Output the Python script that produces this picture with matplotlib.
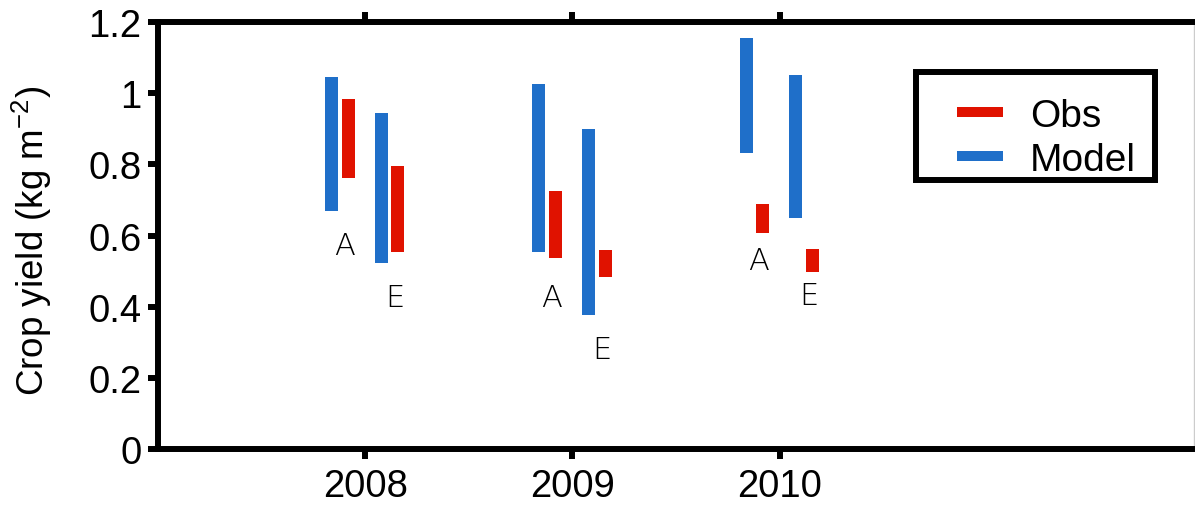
import matplotlib
matplotlib.use("Agg")
import matplotlib.pyplot as plt
from matplotlib.ticker import FuncFormatter
from matplotlib.lines import Line2D
from matplotlib.patches import Rectangle

plt.rcParams['font.family'] = ['Liberation Sans', 'DejaVu Sans']

years = [2008, 2009, 2010]
model_a_low = [0.668, 0.555, 0.833]
model_a_high = [1.045, 1.025, 1.155]
obs_a_low = [0.761, 0.537, 0.608]
obs_a_high = [0.982, 0.725, 0.690]
model_e_low = [0.522, 0.377, 0.649]
model_e_high = [0.945, 0.898, 1.050]
obs_e_low = [0.553, 0.483, 0.499]
obs_e_high = [0.796, 0.559, 0.563]
label_a_y = [0.571, 0.427, 0.529]
label_e_y = [0.427, 0.281, 0.431]
yticks = [0, 0.2, 0.4, 0.6, 0.8, 1.0, 1.2]
legend_labels = ['Obs', 'Model']

blue = '#1f6fc9'
red = '#e01200'

fig = plt.figure(figsize=(11.95, 5.10), dpi=100)
ax = fig.add_axes([0.1322, 0.1167, 0.8670, 0.8388])

w = 0.0625
off = {'ma': -0.162, 'oa': -0.082, 'me': 0.077, 'oe': 0.158}

def draw(xoff, lo, hi, color):
    xs = [y + xoff for y in years]
    hs = [h - l for h, l in zip(hi, lo)]
    return ax.bar(xs, hs, bottom=lo, width=w, color=color, zorder=3)

draw(off['ma'], model_a_low, model_a_high, blue)
draw(off['oa'], obs_a_low, obs_a_high, red)
draw(off['me'], model_e_low, model_e_high, blue)
draw(off['oe'], obs_e_low, obs_e_high, red)

for yr, ya, ye in zip(years, label_a_y, label_e_y):
    ax.text(yr - 0.10, ya, 'A', ha='center', va='center', fontsize=22,
            family='DejaVu Sans', fontweight='light')
    ax.text(yr + 0.143, ye, 'E', ha='center', va='center', fontsize=22,
            family='DejaVu Sans', fontweight='light')

ax.set_xlim(2007, 2012)
ax.set_ylim(0, 1.2)
ax.set_xticks(years)
ax.set_xticklabels([str(y) for y in years])
ax.set_yticks(yticks)
ax.yaxis.set_major_formatter(FuncFormatter(lambda v, p: '%g' % v))

for side in ['left', 'top', 'bottom']:
    ax.spines[side].set_linewidth(4.3)
ax.spines['right'].set_linewidth(1.0)
ax.spines['right'].set_color('#cccccc')

ax.tick_params(axis='both', which='major', direction='out', length=7, width=4.3,
               labelsize=27.5)
ax.tick_params(axis='x', top=True, labeltop=False, pad=6)
ax.tick_params(axis='y', pad=5)

ax.set_ylabel(r'Crop yield (kg m$^{\mathregular{-2}}$)', fontsize=26.5)
ax.yaxis.set_label_coords(-0.1, 0.49)

# legend frame
ax.add_patch(Rectangle((0.7317, 0.630), 0.9624 - 0.7317, 0.8824 - 0.630,
                       transform=ax.transAxes, facecolor='white',
                       edgecolor='black', lw=4.3, zorder=4, clip_on=False))

handles = [Line2D([0], [0], color=red, lw=7.2, solid_capstyle='butt'),
           Line2D([0], [0], color=blue, lw=7.2, solid_capstyle='butt')]
leg = ax.legend(handles, legend_labels, loc='center left',
                bbox_to_anchor=(0.7712, 0.729), borderaxespad=0,
                fontsize=28, frameon=False, borderpad=0,
                handlelength=1.18, handletextpad=0.7, labelspacing=0.2)
leg.set_zorder(5)

fig.savefig('out.png', dpi=100)
